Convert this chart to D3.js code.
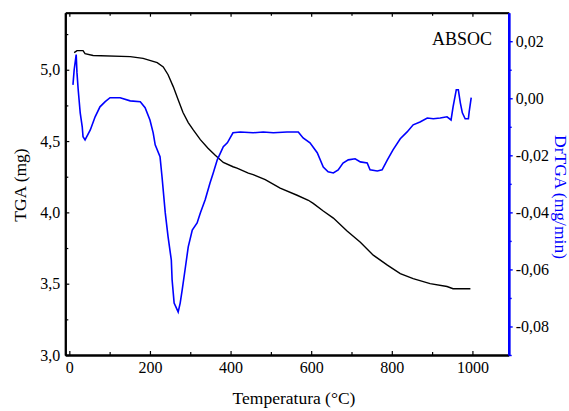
<!DOCTYPE html>
<html>
<head>
<meta charset="utf-8">
<script src="https://cdn.jsdelivr.net/npm/d3@7"></script>
<style>
  body { margin: 0; background: #fff; }
  svg { display: block; font-family: "Liberation Serif", "Times New Roman", serif; }
</style>
</head>
<body>
<svg width="569" height="411"></svg>
<script>
// TGA curve (black, left axis)
const tgaTemp = [12, 19, 34, 39, 59, 151, 183, 218, 233, 245, 258, 270, 282, 295, 307, 325, 344, 362, 382, 406, 416, 444, 456, 486, 523, 565, 593, 605, 630, 655, 689, 722, 754, 789, 821, 853, 895, 937, 952, 995];
const tgaMass = [5.12, 5.134, 5.134, 5.113, 5.10, 5.092, 5.08, 5.05, 5.02, 4.965, 4.88, 4.79, 4.70, 4.63, 4.58, 4.51, 4.45, 4.40, 4.35, 4.32, 4.31, 4.275, 4.265, 4.23, 4.17, 4.12, 4.085, 4.063, 4.01, 3.96, 3.87, 3.79, 3.70, 3.63, 3.57, 3.535, 3.50, 3.48, 3.465, 3.465];

// DrTGA curve (blue, right axis)
const dtgTemp = [9, 12, 17, 19, 22, 27, 32, 34, 39, 52, 64, 76, 89, 101, 126, 151, 176, 188, 200, 208, 213, 225, 230, 238, 245, 253, 255, 260, 270, 275, 280, 287, 295, 305, 317, 325, 337, 349, 357, 367, 382, 392, 406, 424, 456, 481, 506, 540, 568, 580, 597, 615, 630, 642, 655, 667, 679, 692, 709, 722, 739, 746, 764, 776, 789, 803, 821, 838, 853, 870, 888, 903, 920, 937, 947, 952, 960, 965, 970, 975, 982, 990, 992, 997];
const dtgRate = [0.0047, 0.0100, 0.0153, 0.0089, 0.0030, -0.0051, -0.0100, -0.0135, -0.0146, -0.0111, -0.0065, -0.0030, -0.0012, 0.0002, 0.0002, -0.0009, -0.0012, -0.0033, -0.0076, -0.0121, -0.0163, -0.0205, -0.0276, -0.0402, -0.0486, -0.0567, -0.0637, -0.0718, -0.0749, -0.0718, -0.0672, -0.0602, -0.0521, -0.0462, -0.0437, -0.0402, -0.0356, -0.0297, -0.0262, -0.0216, -0.0170, -0.0156, -0.0121, -0.0118, -0.0121, -0.0118, -0.0121, -0.0118, -0.0118, -0.0139, -0.0156, -0.0191, -0.0241, -0.0258, -0.0262, -0.0251, -0.0227, -0.0216, -0.0212, -0.0223, -0.0227, -0.0251, -0.0255, -0.0251, -0.0216, -0.0181, -0.0142, -0.0118, -0.0093, -0.0083, -0.0069, -0.0072, -0.0069, -0.0065, -0.0076, -0.0030, 0.0030, 0.0030, -0.0016, -0.0051, -0.0072, -0.0072, -0.0047, 0.0002];

// tick labels
const tempTicks = [0, 200, 400, 600, 800, 1000];
const tempMinor = [100, 300, 500, 700, 900];
const massTicks = [3.0, 3.5, 4.0, 4.5, 5.0];
const massMinor = [3.25, 3.75, 4.25, 4.75, 5.25];
const rateTicks = [-0.08, -0.06, -0.04, -0.02, 0.00, 0.02];
const rateMinor = [-0.09, -0.07, -0.05, -0.03, -0.01, 0.01];

const svg = d3.select('svg');
const pLeft = 65.3, pRight = 508.7, pTop = 12.7, pBottom = 355;
const blue = '#0000ff';

const loc = d3.formatLocale({decimal: ',', thousands: '.', grouping: [3], currency: ['', ''], minus: '-'});

const x = d3.scaleLinear().domain([-10, 1090]).range([pLeft, pRight]);
const yL = d3.scaleLinear().domain([3.0, 5.4]).range([pBottom, pTop]);
const yR = d3.scaleLinear().domain([-0.09, 0.03]).range([pBottom, pTop]);

// minor ticks (no labels)
svg.append('g').attr('transform', `translate(0,${pBottom})`)
  .call(d3.axisBottom(x).tickValues(tempMinor).tickSizeInner(-3).tickSizeOuter(0).tickFormat(''));
svg.append('g').attr('transform', `translate(0,${pTop})`)
  .call(d3.axisTop(x).tickValues(tempMinor).tickSizeInner(-3).tickSizeOuter(0).tickFormat(''));
svg.append('g').attr('transform', `translate(${pLeft},0)`)
  .call(d3.axisLeft(yL).tickValues(massMinor).tickSizeInner(-3).tickSizeOuter(0).tickFormat(''));
const grMinor = svg.append('g').attr('transform', `translate(${pRight},0)`)
  .call(d3.axisRight(yR).tickValues(rateMinor).tickSizeInner(3).tickSizeOuter(0).tickFormat(''));

// labelled axes
const gx = svg.append('g').attr('transform', `translate(0,${pBottom})`)
  .call(d3.axisBottom(x).tickValues(tempTicks).tickSizeInner(-4).tickSizeOuter(0).tickPadding(7).tickFormat(d3.format('d')));
const gt = svg.append('g').attr('transform', `translate(0,${pTop})`)
  .call(d3.axisTop(x).tickValues(tempTicks).tickSizeInner(-4).tickSizeOuter(0).tickFormat(''));
const gl = svg.append('g').attr('transform', `translate(${pLeft},0)`)
  .call(d3.axisLeft(yL).tickValues(massTicks).tickSizeInner(-4).tickSizeOuter(0).tickPadding(5).tickFormat(loc.format('.1f')));
const gr = svg.append('g').attr('transform', `translate(${pRight},0)`)
  .call(d3.axisRight(yR).tickValues(rateTicks).tickSizeInner(4).tickSizeOuter(0).tickPadding(3).tickFormat(loc.format('.2f')));

svg.selectAll('.tick text').attr('font-size', 16).attr('fill', '#000').attr('font-family', 'Liberation Serif');
svg.selectAll('.tick line').attr('stroke-width', 1.2);
svg.selectAll('.domain').attr('stroke-width', 2);
gt.select('.domain').attr('stroke-width', 1.4);
[gr, grMinor].forEach(g => {
  g.select('.domain').attr('stroke', blue).attr('stroke-width', 2.4);
  g.selectAll('.tick line').attr('stroke', blue).attr('stroke-width', 1.4);
});

// curves
const tga = tgaTemp.map((t, i) => [t, tgaMass[i]]);
const dtg = dtgTemp.map((t, i) => [t, dtgRate[i]]);

svg.append('path').datum(tga)
  .attr('fill', 'none').attr('stroke', '#000').attr('stroke-width', 1.4)
  .attr('d', d3.line().x(d => x(d[0])).y(d => yL(d[1])));

svg.append('path').datum(dtg)
  .attr('fill', 'none').attr('stroke', blue).attr('stroke-width', 1.6)
  .attr('d', d3.line().x(d => x(d[0])).y(d => yR(d[1])));

// texts
svg.append('text').attr('x', 492).attr('y', 45).attr('text-anchor', 'end')
  .attr('font-size', 18).text('ABSOC');

svg.append('text').attr('x', 294).attr('y', 404).attr('text-anchor', 'middle')
  .attr('font-size', 17.5).text('Temperatura (°C)');

svg.append('text').attr('transform', 'translate(26,185) rotate(-90)').attr('text-anchor', 'middle')
  .attr('font-size', 17.5).text('TGA (mg)');

svg.append('text').attr('transform', 'translate(555,197) rotate(90)').attr('text-anchor', 'middle')
  .attr('font-size', 17.5).attr('fill', blue).text('DrTGA (mg/min)');
</script>
</body>
</html>
